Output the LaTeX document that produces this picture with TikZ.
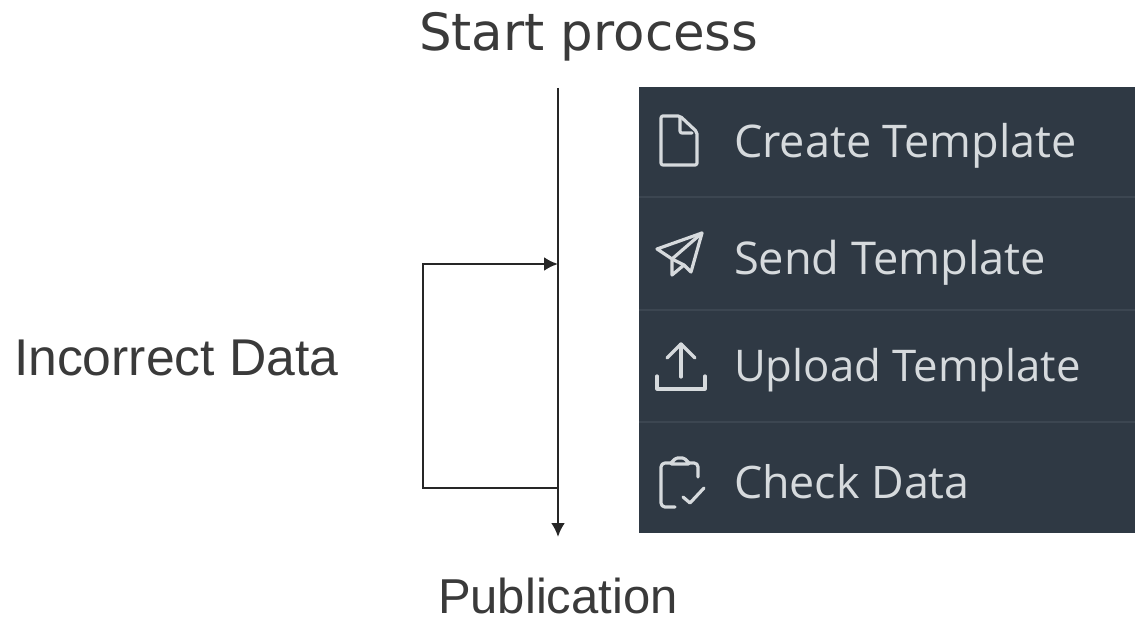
\documentclass[tikz,border=0pt]{standalone}
\usepackage{fontspec}
\setmainfont{Liberation Sans}
\newfontfamily\startfont{DejaVu Sans}
\newfontfamily\panelfont{Open Sans}
\usetikzlibrary{arrows.meta}
\definecolor{panelbg}{HTML}{2F3944}
\definecolor{panelsep}{HTML}{3C4651}
\definecolor{paneltx}{HTML}{D6DADD}
\definecolor{labeltx}{HTML}{3A3A3A}
\newcommand{\fs}[1]{\fontsize{#1}{#1}\selectfont}
\tikzset{
  x=1pt,y=-1pt,
  label text/.style={anchor=base west,inner sep=0pt,outer sep=0pt,text=labeltx},
  panel text/.style={anchor=base west,inner sep=0pt,outer sep=0pt,text=paneltx},
  flow/.style={draw=black!85,line width=2.6pt},
  flowarrow/.style={flow,-{Latex[length=14pt,width=14pt]}},
  icon/.style={draw=paneltx,line width=3.2pt,line join=round,line cap=round,fill=none},
  sep/.style={draw=panelsep,line width=1.5pt},
}
\begin{document}
\begin{tikzpicture}
\useasboundingbox (0,0) rectangle (1135,620);
\fill[white] (0,0) rectangle (1135,620);
\fill[panelbg] (639,87) rectangle (1135,533);
\draw[sep] (639,197) -- (1135,197);
\draw[sep] (639,310) -- (1135,310);
\draw[sep] (639,422) -- (1135,422);

\node[label text,font=\startfont\fs{51.4}] (start) at (419,51) {Start process};
\node[label text,font=\fs{51.7}] (incorrect) at (14,375) {Incorrect Data};
\node[label text,font=\fs{49}] (publication) at (438,613) {Publication};

\node[panel text,font=\panelfont\fs{45}] (create) at (734,158) {Create Template};
\node[panel text,font=\panelfont\fs{45.2}] (send) at (734,275) {Send Template};
\node[panel text,font=\panelfont\fs{43.7}] (upload) at (734,381) {Upload Template};
\node[panel text,font=\panelfont\fs{44.8}] (check) at (734,498) {Check Data};

\coordinate (top) at (558,88);
\coordinate (bot) at (558,537);
\coordinate (jin) at (558,264);
\coordinate (jout) at (558,488);
\coordinate (cbl) at (423,488);
\coordinate (ctl) at (423,264);
\draw[flowarrow] (top) -- (bot);
\draw[flowarrow] (jout) -- (cbl) -- (ctl) -- (jin);

% file icon
\draw[icon,rounded corners=2pt] (661,116) -- (680,116) -- (697,132) -- (697,165) -- (661,165) -- cycle;
\draw[icon,rounded corners=2pt] (680,118) -- (680,133) -- (692,133);
% plane icon
\draw[icon] (702,233) -- (657,249) -- (672,259) -- (672,275) -- (684,265) -- (691,272) -- cycle;
\draw[icon] (702,233) -- (672,259);
\draw[icon] (672,259) -- (684,265);
% upload icon
\draw[icon] (681,377) -- (681,344);
\draw[icon] (667,358) -- (681,344) -- (695,358);
\draw[icon] (657,376) -- (657,389) -- (705,389) -- (705,376);
% clipboard icon
\draw[icon,rounded corners=4pt] (675,507) -- (661,507) -- (661,463) -- (670,463);
\draw[icon,rounded corners=1.5pt] (670,464) -- (676,458) -- (684,458) -- (690,464) -- cycle;
\draw[icon,rounded corners=4pt] (690,463) -- (698,463) -- (698,477);
\draw[icon] (683,497) -- (690,503) -- (704,488);
\end{tikzpicture}
\end{document}
